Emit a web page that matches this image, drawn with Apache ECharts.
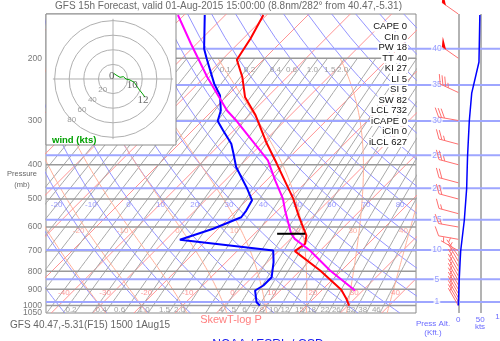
<!DOCTYPE html>
<html>
<head>
<meta charset="utf-8">
<script src="https://cdn.jsdelivr.net/npm/echarts@6/dist/echarts.min.js"></script>
<style>
html,body{margin:0;padding:0;background:#ffffff;}
#chart{width:500px;height:341px;}
</style>
</head>
<body>
<div id="chart"></div>
<script>
// ================= DATA =================
const pressureTicks = [200, 300, 400, 500, 600, 700, 800, 900, 1000, 1050];
const pressureLines = [200, 300, 400, 500, 600, 700, 800, 900, 1000];
const altKft = [1, 5, 10, 15, 20, 25, 30, 35, 40];
const altPressure = [977, 843, 697, 572, 466, 376, 301, 238, 188];

// temperature profile (red)
const tempP = [1000, 957, 903, 796, 702, 669, 634, 610, 556, 499, 463, 397, 345, 290, 258, 226, 202, 176, 151];
const tempC = [30.3, 28.0, 24.6, 14.8, 4.0, 4.7, 3.0, 1.0, -3.8, -9.1, -13.2, -21.6, -29.4, -38.4, -45.3, -50.9, -56.4, -58.2, -60.8];
// dew point profile (blue)
const dewP = [1000, 979, 907, 878, 832, 754, 699, 652, 607, 563, 539, 504, 463, 406, 372, 349, 320, 301, 281, 255, 236, 200, 188, 151];
const dewC = [8.7, 7.1, 3.9, 4.7, 4.7, 1.5, -1.4, -26.6, -21.2, -17.2, -17.6, -18.7, -23.2, -30.6, -34.5, -37.4, -42.6, -46.2, -48.0, -51.8, -56.1, -64.1, -67.0, -75.0];
// lifted parcel (magenta)
const parcelP = [907, 796, 699, 648, 627, 539, 499, 443, 389, 341, 301, 281, 226, 182, 151];
const parcelC = [28.1, 17.2, 7.5, 1.0, -1.1, -8.2, -11.6, -17.9, -24.5, -33.3, -41.6, -46.5, -59.4, -71.4, -81.5];
const lclP = 627;
const lclHalfWidthC = 3.4;

// wind barbs (direction deg, speed kt)
const windP   = [150, 200, 250, 300, 350, 400, 450, 500, 550, 600, 650, 700, 725, 750, 775, 800, 825, 850, 875, 900, 925, 950, 975, 1000];
const windDir = [305, 305, 295, 280, 285, 285, 285, 285, 285, 280, 280, 300, 325, 330, 330, 330, 330, 330, 330, 330, 330, 330, 330, 330];
const windSpd = [50, 50, 35, 30, 25, 25, 20, 20, 15, 15, 10, 5, 5, 5, 5, 5, 5, 5, 5, 5, 5, 5, 5, 5];
// wind speed profile (right panel)
const speedP  = [1000, 850, 756, 699, 575, 467, 379, 301, 251, 205, 151];
const speedKt = [0, 2, 4, 5.5, 13.6, 19, 21, 25, 30.5, 47, 49];

// hodograph
const hodoU = [0.9, 4.1, 9.6, 14.2, 17.8, 23.3, 29.2, 35.2, 40.7, 43.8];
const hodoV = [7.8, 5.5, 2.3, 3.2, 0.0, -1.4, -4.6, -13.7, -20.5, -25.0];
const hodoLabel = ['0', '', '', '', '', '', '10', '', '', '12'];
const ringKt = [20, 40, 60, 80];

// indices box
const statNames  = ['CAPE', 'CIn', 'PW', 'TT', 'KI', 'LI', 'SI', 'SW', 'LCL', 'iCAPE', 'iCIn', 'iLCL'];
const statValues = [0, 0, 18, 40, 27, 5, 5, 82, 732, 0, 0, 627];

// background line families
const isothermC = [-110, -100, -90, -80, -70, -60, -50, -40, -30, -20, -10, 0, 10, 20, 30, 40];
const thetaC = [-50, -40, -30, -20, -10, 0, 10, 20, 30, 40, 50, 60, 70, 80, 90, 100, 110, 120, 130, 140, 150, 160, 170];
const thetaWC = [-30, -20, -10, 0, 10, 20, 30, 40];
const mixRatio = [0.003, 0.005, 0.008, 0.012, 0.018, 0.027, 0.04, 0.06, 0.1, 0.15, 0.2, 0.3, 0.4, 0.6, 0.8, 1.0, 1.5, 2.0, 3, 4, 5, 6, 7, 8, 10, 12, 15, 18, 22, 26, 32, 38, 46];
// labels of the line families
const isothermLabelC = [-40, -30, -20, -10, 0, 10, 20, 30, 40];
const thetaLabelC = [-20, -10, 0, 10, 20, 30, 40, 50, 60, 70, 80];
const thetaWLabelC = [-20, -10, 0, 10, 20, 30, 40];
const mrLabelBottom = ['0.2', '0.4', '0.6', '1.0', '1.5', '2.0', '4', '5', '6', '7', '8', '10', '12', '15', '18', '22', '26', '32', '38', '46'];
const mrLabelTop = ['0.1', '0.2', '0.4', '0.6', '1.0', '1.5', '2.0'];

// ================= GEOMETRY =================
const FONT = 'Liberation Sans, Arial, sans-serif';
const X_MIN = -43.1, X_MAX = 46.5, P_TOP = 150, P_BOT = 1050;
const MAIN = {left: 46, top: 14, width: 370, height: 299};
const SKEW = (MAIN.height / Math.log(P_BOT / P_TOP)) / (MAIN.width / (X_MAX - X_MIN));
function sx(T, p) { return T + SKEW * Math.log(1000 / p); }
function esat(Tc) { return 6.112 * Math.exp(17.67 * Tc / (Tc + 243.5)); }
function tdFromW(w, p) { const e = w * p / (622 + w); const l = Math.log(e / 6.112); return 243.5 * l / (17.67 - l); }
function moistCurve(tw, pTop) {
  const Rd = 287.04, Cp = 1005.7, Lv = 2.501e6, eps = 0.622;
  const f = (T, p) => { const es = esat(T - 273.15); const rs = eps * es / (p - es);
    return (1 / p) * (Rd * T + Lv * rs) / (Cp + Lv * Lv * rs * eps / (Rd * T * T)); };
  const step = (T, p, dp) => { const k1 = f(T, p); const k2 = f(T + k1 * dp / 2, p + dp / 2); return T + k2 * dp; };
  let up = [], T = tw + 273.15, p = 1000;
  up.push([p, T]);
  while (p > pTop) { T = step(T, p, -5); p -= 5; up.push([p, T]); }
  let down = []; T = tw + 273.15; p = 1000;
  while (p < P_BOT) { T = step(T, p, 5); p += 5; down.push([p, T]); }
  return down.reverse().concat(up).map(a => [sx(a[1] - 273.15, a[0]), a[0]]);
}
const pSamples = [];
for (let p = P_BOT; p >= P_TOP; p -= 25) pSamples.push(p);
const pSamplesLow = pSamples.filter(p => p >= 200);

// ================= SERIES =================
const series = [];
function addLine(g, pts, color, width, z) {
  series.push({type: 'line', xAxisIndex: g, yAxisIndex: g, data: pts, symbol: 'none', silent: true,
    animation: false, z: z || 2, clip: true, lineStyle: {color: color, width: width}});
}
function addLabels(g, items, color, pos, dist, size, extra, z) {
  series.push({type: 'scatter', xAxisIndex: g, yAxisIndex: g, symbolSize: 0, silent: true, animation: false,
    clip: false, z: z || 4,
    data: items.map(it => ({value: [it.x, it.y], label: {formatter: it.text}})),
    label: Object.assign({show: true, position: pos, distance: dist, color: color, fontSize: size, fontFamily: FONT}, extra || {})});
}

// isotherms
isothermC.forEach(T => addLine(0, [[sx(T, P_BOT), P_BOT], [sx(T, P_TOP), P_TOP]], '#ff9494', 1));
// dry adiabats
thetaC.forEach(th => addLine(0, pSamples.map(p => [sx((th + 273.15) * Math.pow(p / 1000, 0.2857) - 273.15, p), p]), '#9494ff', 1));
// mixing ratio
mixRatio.forEach(w => addLine(0, pSamplesLow.map(p => [sx(tdFromW(w, p), p), p]), '#a8a8a8', 1));
// moist adiabats
thetaWC.forEach(tw => addLine(0, moistCurve(tw, 200), '#ffb09a', 1));
// pressure lines
pressureLines.forEach(p => addLine(0, [[X_MIN, p], [X_MAX, p]], '#9a9a9a', 1.5));
// altitude lines (full width grid)
altPressure.forEach(p => addLine(2, [[0, p], [1, p]], '#9ea6ff', 2));

// family labels
addLabels(0, isothermLabelC.map(T => ({x: sx(T, 920), y: 920, text: String(T)})), '#ff8080', 'left', 2, 8);
addLabels(0, thetaLabelC.map(th => { const p = 518; return {x: sx((th + 273.15) * Math.pow(p / 1000, 0.2857) - 273.15, p), y: p, text: String(th)}; }), '#8080ff', 'left', 1, 8);
addLabels(0, thetaWLabelC.map(tw => { const c = moistCurve(tw, 200); const pt = c.find(a => a[1] <= 613) || c[c.length - 1]; return {x: pt[0], y: 613, text: String(tw)}; }), '#ff9a8a', 'left', 2, 8);
addLabels(0, mrLabelBottom.map(s => ({x: sx(tdFromW(parseFloat(s), 1025), 1025), y: 1025, text: s})), '#8a8a8a', 'left', 1, 8);
addLabels(0, mrLabelTop.map(s => ({x: sx(tdFromW(parseFloat(s), 216), 216), y: 216, text: s})), '#8a8a8a', 'left', 1, 8);

// pressure labels
addLabels(0, pressureTicks.map(p => ({x: X_MIN, y: p, text: String(p)})), '#555', 'left', 4, 8.5);
// altitude labels
addLabels(2, altKft.map((a, i) => ({x: 0.861, y: altPressure[i], text: String(a)})), '#7c84ff', 'inside', 0, 8.5, {backgroundColor: '#fff', padding: [0, 1]});

// profiles
addLine(0, tempP.map((p, i) => [sx(tempC[i], p), p]), '#ff0000', 2, 6);
addLine(0, dewP.map((p, i) => [sx(dewC[i], p), p]), '#0000ff', 2, 6);
addLine(0, parcelP.map((p, i) => [sx(parcelC[i], p), p]), '#ff00ff', 2, 6);
(function () {
  const i = parcelP.indexOf(lclP);
  const c = sx(parcelC[i], lclP);
  addLine(0, [[c - lclHalfWidthC, lclP], [c + lclHalfWidthC, lclP]], '#000000', 2, 7);
})();

// right panel speed profile
addLine(1, speedP.map((p, i) => [speedKt[i], p]), '#0000ff', 1.5, 6);

// wind barbs
series.push({
  type: 'custom', xAxisIndex: 1, yAxisIndex: 1, silent: true, animation: false, z: 6, clip: false,
  data: windP.map((p, i) => [p, windDir[i], windSpd[i]]),
  encode: {x: -1, y: 0},
  renderItem: function (params, api) {
    const p = api.value(0), dir = api.value(1), spd = api.value(2);
    const base = api.coord([0, p]);
    const r = dir * Math.PI / 180;
    const ux = Math.sin(r), uy = -Math.cos(r);
    const nx = -uy, ny = ux;
    const L = 20, F = 10, gap = 3;
    const fx = nx * 0.87 + ux * 0.5, fy = ny * 0.87 + uy * 0.5;
    const tip = [base[0] + ux * L, base[1] + uy * L];
    const col = '#ff7070';
    const ch = [{type: 'line', shape: {x1: base[0], y1: base[1], x2: tip[0], y2: tip[1]}, style: {stroke: col, lineWidth: 1}}];
    let s = Math.round(spd / 5) * 5, pos = 0;
    while (s >= 50) {
      const a = [tip[0] - ux * pos, tip[1] - uy * pos];
      const b = [tip[0] - ux * (pos + 5), tip[1] - uy * (pos + 5)];
      const c = [a[0] + fx * F, a[1] + fy * F];
      ch.push({type: 'polygon', shape: {points: [a, b, c]}, style: {fill: '#ff0000'}});
      pos += 6; s -= 50;
    }
    while (s >= 10) {
      const a = [tip[0] - ux * pos, tip[1] - uy * pos];
      ch.push({type: 'line', shape: {x1: a[0], y1: a[1], x2: a[0] + fx * F, y2: a[1] + fy * F}, style: {stroke: col, lineWidth: 1}});
      pos += gap; s -= 10;
    }
    if (s >= 5) {
      if (pos === 0) pos = gap;
      const a = [tip[0] - ux * pos, tip[1] - uy * pos];
      ch.push({type: 'line', shape: {x1: a[0], y1: a[1], x2: a[0] + fx * F / 2, y2: a[1] + fy * F / 2}, style: {stroke: col, lineWidth: 1}});
    }
    return {type: 'group', children: ch};
  }
});

// hodograph
const ringMax = Math.max.apply(null, ringKt);
series.push({
  type: 'custom', xAxisIndex: 3, yAxisIndex: 3, silent: true, animation: false, z: 12, clip: false,
  data: ringKt.map(r => [0, 0, r]),
  renderItem: function (params, api) {
    const c = api.coord([0, 0]);
    const rr = api.size([api.value(2), 0])[0];
    return {type: 'circle', shape: {cx: c[0], cy: c[1], r: rr}, style: {fill: 'none', stroke: '#b0b0b0', lineWidth: 1}};
  }
});
addLine(3, [[-ringMax * 1.03, 0], [ringMax * 1.03, 0]], '#b0b0b0', 1, 12);
addLine(3, [[0, -ringMax * 1.03], [0, ringMax * 1.03]], '#b0b0b0', 1, 12);
addLabels(3, ringKt.map(r => ({x: -r * 0.7071, y: -r * 0.7071, text: String(r)})), '#888', 'inside', 0, 8, null, 13);
addLine(3, hodoU.map((u, i) => [u, hodoV[i]]), '#00a000', 1, 13);
addLabels(3, hodoU.map((u, i) => ({x: u, y: hodoV[i], text: hodoLabel[i]})).filter(d => d.text !== ''), '#444', 'inside', 0, 11,
  {fontFamily: 'Liberation Serif, serif', offset: [-2, 3]}, 14);

// ================= GRAPHICS (texts) =================
const txt = (x, y, text, o) => Object.assign({type: 'text', x: x, y: y, z: 20, silent: true,
  style: Object.assign({text: text, fill: '#666', font: '10px ' + FONT, textAlign: 'left', align: 'left',
    textVerticalAlign: 'middle', verticalAlign: 'middle'}, o || {})});
const graphics = [
  {type: 'rect', z: 10, silent: true, shape: {x: 46, y: 14, width: 130, height: 131}, style: {fill: '#ffffff', stroke: '#8a8a8a', lineWidth: 1}},
  txt(55, 6.5, 'GFS 15h Forecast, valid 01-Aug-2015 15:00:00 (8.8nm/282\u00b0 from 40.47,-5.31)', {fill: '#6a6a6a'}),
  txt(52, 140, 'wind (kts)', {fill: '#00a000', font: 'bold 9.5px ' + FONT}),
  txt(22, 174, 'Pressure', {font: '7.5px ' + FONT, textAlign: 'center', align: 'center', fill: '#666'}),
  txt(22, 185, '(mb)', {font: '7.5px ' + FONT, textAlign: 'center', align: 'center', fill: '#666'}),
  txt(10, 325, 'GFS 40.47,-5.31(F15) 1500 1Aug15', {fill: '#666'}),
  txt(231, 320, 'SkewT-log P', {fill: '#ff7f7f', font: '11px ' + FONT, textAlign: 'center', align: 'center'}),
  txt(433, 324, 'Press Alt.', {fill: '#6a6aff', font: '8px ' + FONT, textAlign: 'center', align: 'center'}),
  txt(433, 333, '(Kft.)', {fill: '#6a6aff', font: '8px ' + FONT, textAlign: 'center', align: 'center'}),
  txt(480, 327, 'kts', {fill: '#6a6aff', font: '8px ' + FONT, textAlign: 'center', align: 'center'}),
  txt(502, 317, '100', {fill: '#6a6aff', font: '8px ' + FONT, textAlign: 'center', align: 'center'}),
  txt(268, 345, 'NOAA / ESRL / GSD', {fill: '#1a1aee', font: '12px ' + FONT, textAlign: 'center', align: 'center'})
];
statNames.forEach((n, i) => graphics.push(txt(408, 26.5 + i * 10.5, n + ' ' + statValues[i],
  {fill: '#111', font: '9.5px ' + FONT, textAlign: 'right', align: 'right', backgroundColor: '#ffffff', padding: [0, 1]})));

// ================= OPTION =================
const hide = {show: false};
const chart = echarts.init(document.getElementById('chart'), null, {renderer: 'canvas'});
chart.setOption({
  animation: false,
  backgroundColor: '#ffffff',
  grid: [
    {left: MAIN.left, top: MAIN.top, width: MAIN.width, height: MAIN.height, show: true, borderColor: '#8a8a8a', borderWidth: 1, backgroundColor: 'transparent', outerBoundsMode: 'none', containLabel: false},
    {left: 458.3, top: MAIN.top, width: 41.7, height: MAIN.height, outerBoundsMode: 'none', containLabel: false},
    {left: MAIN.left, top: MAIN.top, width: 454, height: MAIN.height, outerBoundsMode: 'none', containLabel: false},
    {left: 46, top: 14, width: 130, height: 131, outerBoundsMode: 'none', containLabel: false}
  ],
  xAxis: [
    {type: 'value', gridIndex: 0, min: X_MIN, max: X_MAX, axisLine: hide, axisTick: hide, axisLabel: hide, splitLine: hide},
    {type: 'value', gridIndex: 1, min: 0, max: 94.8, interval: 50, axisLine: hide, axisTick: hide,
      axisLabel: {show: true, color: '#6a6aff', fontSize: 8, fontFamily: FONT, margin: 3, showMaxLabel: false},
      splitLine: {show: true, showMaxLine: false, lineStyle: {color: '#9a9a9a', width: 1.5}}},
    {type: 'value', gridIndex: 2, min: 0, max: 1, axisLine: hide, axisTick: hide, axisLabel: hide, splitLine: hide},
    {type: 'value', gridIndex: 3, min: -91.8, max: 86.3, axisLine: hide, axisTick: hide, axisLabel: hide, splitLine: hide}
  ],
  yAxis: [
    {type: 'log', gridIndex: 0, min: P_TOP, max: P_BOT, inverse: true, axisLine: hide, axisTick: hide, axisLabel: hide, splitLine: hide},
    {type: 'log', gridIndex: 1, min: P_TOP, max: P_BOT, inverse: true, axisLine: hide, axisTick: hide, axisLabel: hide, splitLine: hide},
    {type: 'log', gridIndex: 2, min: P_TOP, max: P_BOT, inverse: true, axisLine: hide, axisTick: hide, axisLabel: hide, splitLine: hide},
    {type: 'value', gridIndex: 3, min: -90.4, max: 89, axisLine: hide, axisTick: hide, axisLabel: hide, splitLine: hide}
  ],
  graphic: {elements: graphics},
  series: series
});
</script>
</body>
</html>
